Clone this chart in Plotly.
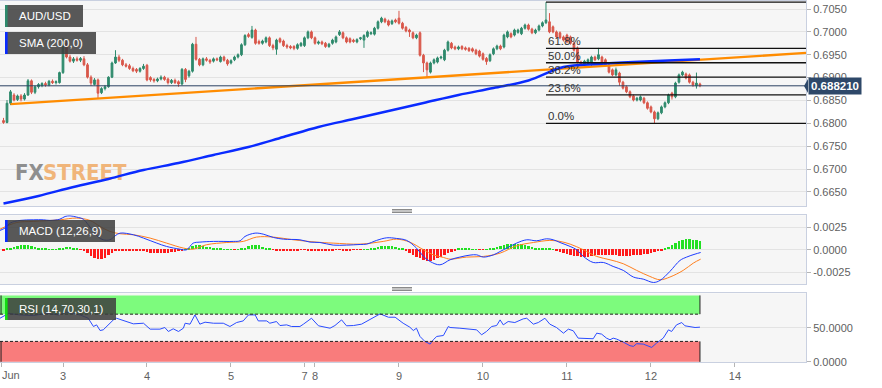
import plotly.graph_objects as go

# ---------------- data (hourly AUD/USD candles, index 0 = Jun 2 07:00) ----------------
opens = [
0.6806,0.6802,0.6844,0.6862,0.6852,0.6860,0.6853,0.6862,0.6893,0.6868,
0.6880,0.6883,0.6887,0.6884,0.6892,0.6889,0.6889,0.6911,0.6975,0.6945,
0.6936,0.6941,0.6938,0.6941,0.6928,0.6901,0.6885,0.6895,0.6867,0.6876,
0.6880,0.6901,0.6932,0.6945,0.6938,0.6928,0.6926,0.6920,0.6918,0.6914,
0.6920,0.6927,0.6900,0.6896,0.6893,0.6897,0.6901,0.6897,0.6889,0.6894,
0.6891,0.6886,0.6918,0.6904,0.6914,0.6973,0.6940,0.6928,0.6941,0.6938,
0.6936,0.6941,0.6935,0.6945,0.6938,0.6932,0.6939,0.6945,0.6950,0.6972,
0.6994,0.6988,0.7004,0.6979,0.6975,0.6978,0.6987,0.6970,0.6962,0.6985,
0.6980,0.6970,0.6968,0.6968,0.6964,0.6970,0.6970,0.6987,0.7000,0.6987,
0.6975,0.6978,0.6975,0.6968,0.6975,0.6978,0.6994,0.6998,0.6987,0.6985,
0.6982,0.6978,0.6985,0.6982,0.6990,0.6996,0.6995,0.7008,0.7022,0.7028,
0.7024,0.7018,0.7026,0.7030,0.7019,0.7010,0.7004,0.6998,0.6987,0.6998,
0.6949,0.6932,0.6912,0.6932,0.6934,0.6943,0.6939,0.6960,0.6975,0.6967,
0.6963,0.6968,0.6965,0.6964,0.6963,0.6960,0.6958,0.6952,0.6942,0.6937,
0.6952,0.6963,0.6969,0.6967,0.6989,0.6996,0.6993,0.6999,0.6996,0.7008,
0.7015,0.7006,0.6998,0.7004,0.7013,0.7020,0.7022,0.7011,0.7000,0.6998,
0.6989,0.6993,0.6989,0.6975,0.6965,0.6934,0.6928,0.6930,0.6934,0.6945,
0.6941,0.6945,0.6939,0.6928,0.6917,0.6906,0.6910,0.6890,0.6880,0.6869,
0.6860,0.6851,0.6851,0.6855,0.6845,0.6836,0.6825,0.6810,0.6823,0.6836,
0.6845,0.6866,0.6858,0.6890,0.6906,0.6908,0.6906,0.6890,0.6882,0.6886]
highs = [
0.6812,0.6851,0.6873,0.6866,0.6863,0.6864,0.6866,0.6897,0.6896,0.6883,
0.6888,0.6890,0.6891,0.6895,0.6896,0.6894,0.6913,0.6987,0.6980,0.6950,
0.6945,0.6946,0.6945,0.6947,0.6932,0.6905,0.6899,0.6898,0.6879,0.6884,
0.6903,0.6935,0.6960,0.6950,0.6941,0.6932,0.6930,0.6924,0.6921,0.6923,
0.6930,0.6930,0.6903,0.6899,0.6900,0.6905,0.6904,0.6900,0.6897,0.6898,
0.6894,0.6921,0.6921,0.6917,0.6976,0.6989,0.6943,0.6944,0.6945,0.6941,
0.6944,0.6944,0.6948,0.6948,0.6941,0.6940,0.6948,0.6953,0.6975,0.6995,
0.6998,0.7013,0.7007,0.6983,0.6983,0.6990,0.6990,0.6974,0.6985,0.6988,
0.6983,0.6974,0.6971,0.6971,0.6975,0.6978,0.6990,0.7003,0.7003,0.6990,
0.6981,0.6981,0.6978,0.6976,0.6985,0.6992,0.7004,0.7001,0.6990,0.6988,
0.6985,0.6986,0.6989,0.6995,0.7003,0.7001,0.7011,0.7025,0.7033,0.7031,
0.7027,0.7027,0.7029,0.7046,0.7022,0.7013,0.7007,0.7001,0.6996,0.7001,
0.6952,0.6935,0.6935,0.6942,0.6946,0.6948,0.6963,0.6981,0.6978,0.6970,
0.6970,0.6971,0.6968,0.6967,0.6966,0.6963,0.6961,0.6955,0.6945,0.6953,
0.6966,0.6972,0.6972,0.6996,0.7003,0.6999,0.7007,0.7007,0.7011,0.7018,
0.7018,0.7009,0.7007,0.7016,0.7023,0.7065,0.7041,0.7014,0.7003,0.7001,
0.6992,0.6996,0.6992,0.6978,0.6968,0.6937,0.6939,0.6942,0.6948,0.6948,
0.6965,0.6948,0.6942,0.6931,0.6920,0.6922,0.6913,0.6893,0.6883,0.6872,
0.6863,0.6858,0.6861,0.6858,0.6848,0.6839,0.6828,0.6826,0.6839,0.6848,
0.6865,0.6869,0.6891,0.6909,0.6915,0.6911,0.6909,0.6893,0.6911,0.6889]
lows = [
0.6799,0.6800,0.6840,0.6848,0.6849,0.6848,0.6850,0.6860,0.6864,0.6864,
0.6876,0.6879,0.6880,0.6881,0.6886,0.6885,0.6887,0.6908,0.6942,0.6933,
0.6932,0.6935,0.6934,0.6925,0.6898,0.6882,0.6883,0.6855,0.6864,0.6872,
0.6878,0.6899,0.6930,0.6934,0.6925,0.6922,0.6917,0.6912,0.6910,0.6911,
0.6917,0.6892,0.6891,0.6889,0.6890,0.6894,0.6893,0.6885,0.6886,0.6886,
0.6880,0.6883,0.6890,0.6900,0.6911,0.6937,0.6925,0.6925,0.6935,0.6930,
0.6933,0.6936,0.6933,0.6935,0.6926,0.6929,0.6936,0.6942,0.6947,0.6969,
0.6987,0.6985,0.6972,0.6972,0.6972,0.6975,0.6967,0.6960,0.6950,0.6975,
0.6967,0.6963,0.6962,0.6960,0.6961,0.6967,0.6967,0.6984,0.6984,0.6972,
0.6972,0.6971,0.6965,0.6965,0.6972,0.6975,0.6991,0.6984,0.6975,0.6975,
0.6976,0.6975,0.6982,0.6965,0.6987,0.6993,0.6992,0.7005,0.7019,0.7019,
0.7012,0.7015,0.7019,0.7016,0.7005,0.6999,0.6989,0.6984,0.6984,0.6946,
0.6912,0.6901,0.6909,0.6929,0.6931,0.6940,0.6936,0.6957,0.6962,0.6960,
0.6960,0.6960,0.6959,0.6956,0.6955,0.6949,0.6944,0.6937,0.6928,0.6934,
0.6949,0.6960,0.6960,0.6964,0.6986,0.6986,0.6990,0.6996,0.6993,0.7005,
0.7003,0.6995,0.6995,0.7001,0.7010,0.7017,0.6997,0.6997,0.6986,0.6984,
0.6979,0.6975,0.6972,0.6957,0.6931,0.6925,0.6925,0.6927,0.6926,0.6936,
0.6938,0.6931,0.6925,0.6909,0.6903,0.6903,0.6882,0.6874,0.6866,0.6855,
0.6848,0.6848,0.6848,0.6842,0.6830,0.6822,0.6800,0.6807,0.6820,0.6833,
0.6842,0.6852,0.6855,0.6887,0.6903,0.6896,0.6887,0.6880,0.6876,0.6879]
closes = [
0.6802,0.6844,0.6869,0.6851,0.6860,0.6853,0.6862,0.6893,0.6868,0.6880,
0.6885,0.6887,0.6884,0.6892,0.6889,0.6891,0.6911,0.6975,0.6945,0.6936,
0.6941,0.6938,0.6942,0.6928,0.6901,0.6888,0.6895,0.6866,0.6876,0.6880,
0.6901,0.6932,0.6945,0.6938,0.6928,0.6925,0.6920,0.6915,0.6914,0.6920,
0.6925,0.6895,0.6895,0.6893,0.6897,0.6901,0.6896,0.6889,0.6894,0.6889,
0.6886,0.6918,0.6896,0.6914,0.6973,0.6940,0.6928,0.6941,0.6938,0.6934,
0.6941,0.6939,0.6945,0.6938,0.6930,0.6937,0.6945,0.6950,0.6972,0.6992,
0.6990,0.7004,0.6975,0.6975,0.6980,0.6987,0.6970,0.6965,0.6982,0.6978,
0.6970,0.6967,0.6965,0.6964,0.6972,0.6975,0.6987,0.7000,0.6987,0.6975,
0.6978,0.6974,0.6968,0.6973,0.6982,0.6989,0.7000,0.6987,0.6978,0.6978,
0.6979,0.6983,0.6987,0.6992,0.7000,0.6998,0.7008,0.7022,0.7030,0.7022,
0.7015,0.7024,0.7022,0.7019,0.7008,0.7002,0.7000,0.6987,0.6993,0.6949,
0.6932,0.6917,0.6932,0.6939,0.6943,0.6945,0.6960,0.6978,0.6965,0.6963,
0.6967,0.6963,0.6962,0.6959,0.6958,0.6952,0.6947,0.6940,0.6935,0.6950,
0.6963,0.6969,0.6963,0.6993,0.7000,0.6989,0.7004,0.7004,0.7008,0.7015,
0.7006,0.6998,0.7004,0.7013,0.7020,0.7026,0.7000,0.7000,0.6989,0.6987,
0.6982,0.6978,0.6975,0.6960,0.6934,0.6928,0.6936,0.6939,0.6945,0.6939,
0.6950,0.6934,0.6928,0.6912,0.6906,0.6917,0.6890,0.6877,0.6869,0.6858,
0.6851,0.6855,0.6858,0.6845,0.6833,0.6825,0.6810,0.6823,0.6836,0.6845,
0.6862,0.6858,0.6888,0.6906,0.6912,0.6899,0.6890,0.6884,0.6888,0.68821]
candle_idx = list(range(len(closes)))

# SMA(200)
sma_x = [0, 10, 20, 30, 40, 50, 60, 70, 80, 90, 100, 110, 120, 130, 140, 150, 160, 170, 180, 190, 199]
sma_v = [0.66249, 0.66413, 0.66609, 0.66784, 0.66981, 0.67134, 0.67309, 0.67484, 0.67702, 0.67921,
         0.68096, 0.68271, 0.68446, 0.68621, 0.68773, 0.68937, 0.69232, 0.69298, 0.69342, 0.69374, 0.69401]

# orange trend line
trend_x = [2, 229.3]
trend_v = [0.6842, 0.6954]

# Fibonacci retracement (from 0.7065 high to 0.6800 low)
fib_start = 155
fib_levels = [0.7065, 0.69638, 0.69325, 0.69012, 0.68625, 0.6800]
fib_labels = ["", "61.8%", "50.0%", "38.2%", "23.6%", "0.0%"]

last_price = 0.68821
last_label = "0.688210"

# MACD (12,26,9)
macd_x = [-1, 0.4, 1.9, 4.7, 8.5, 11.4, 13.3, 16.1, 17.6, 19.0, 20.9, 22.8, 24.2, 25.7, 27.1, 28.5, 30.4, 31.9,
          33.3, 37.1, 40.0, 43.8, 46.6, 50.4, 52.3, 54.2, 56.1, 60.0, 65.7, 67.6, 69.0, 71.9, 74.2, 77.1, 80.0,
          84.7, 87.6, 90.4, 94.2, 98.0, 101.9, 103.8, 106.6, 109.5, 112.3, 115.2, 118.0, 120.0, 121.9, 124.7,
          127.6, 130.4, 133.3, 135.2, 137.1, 140.0, 141.9, 143.8, 146.6, 149.5, 152.3, 155.2, 157.1, 159.0,
          161.9, 163.8, 165.7, 168.5, 171.4, 174.2, 177.1, 180.0, 182.8, 185.7, 187.6, 190.4, 193.3, 195.2,
          197.6, 199.2]
macd_v = [0.00215, 0.00241, 0.00296, 0.00326, 0.00333, 0.00333, 0.00326, 0.00340, 0.00370, 0.00377, 0.00363,
          0.00340, 0.00278, 0.00204, 0.00141, 0.00111, 0.00111, 0.00155, 0.00185, 0.00167, 0.00130, 0.00074,
          0.00037, 0.00007, 0.0, 0.00074, 0.00085, 0.00093, 0.00093, 0.00100, 0.00148, 0.00185, 0.00174,
          0.00137, 0.00118, 0.00111, 0.00085, 0.00081, 0.00052, 0.00052, 0.00059, 0.00063, 0.00104, 0.00133,
          0.00126, 0.00104, 0.00019, -0.00074, -0.00130, -0.00167, -0.00111, -0.00081, -0.00059, -0.00056,
          -0.00081, -0.00056, -0.00019, 0.00019, 0.00074, 0.00111, 0.00100, 0.00122, 0.00111, 0.00081,
          0.00037, 0.0, -0.00074, -0.00141, -0.00141, -0.00185, -0.00229, -0.00303, -0.00326, -0.00363,
          -0.00340, -0.00241, -0.00118, -0.00081, -0.00048, -0.00030]
sig_x = [-1, 3.8, 8.5, 16.1, 20.9, 24.7, 27.6, 30.4, 33.3, 37.1, 41.9, 46.6, 51.4, 54.2, 58.0, 63.8, 68.5,
         72.3, 77.1, 82.8, 89.5, 94.2, 101.9, 108.5, 112.3, 116.1, 120.0, 122.8, 125.7, 127.6, 132.3, 137.1,
         141.9, 146.6, 151.4, 156.1, 159.0, 161.9, 165.7, 169.5, 173.3, 177.1, 180.9, 184.7, 187.6, 190.4,
         194.2, 197.1, 199.2]
sig_v = [0.00229, 0.00303, 0.00315, 0.00333, 0.00352, 0.00326, 0.00259, 0.00204, 0.00178, 0.00167, 0.00130,
         0.00074, 0.00019, 0.00007, 0.00056, 0.00081, 0.00093, 0.00141, 0.00141, 0.00111, 0.00085, 0.00074,
         0.00063, 0.00093, 0.00118, 0.00085, 0.0, -0.00056, -0.00085, -0.00104, -0.00081, -0.00074, -0.00037,
         0.00044, 0.00081, 0.00104, 0.00093, 0.00063, 0.0, -0.00074, -0.00111, -0.00155, -0.00229, -0.00296,
         -0.00333, -0.00303, -0.00229, -0.00148, -0.00104]
hist_v = [
-0.0001,0.0001,0.0002,0.0003,0.0004,0.0005,0.00055,0.0005,0.0004,0.0003,
0.0002,0.00015,0.0001,0.00005,0.00003,0.00003,0.0001,0.0002,0.0003,0.0003,
0.0002,0.0001,-0.00005,-0.0002,-0.0004,-0.0007,-0.0009,-0.0011,-0.0011,-0.0009,
-0.0006,-0.0004,-0.0002,-0.0001,-0.0001,-0.0001,-0.0001,-0.0001,-0.0001,-0.0001,
-0.0002,-0.0003,-0.0004,-0.0004,-0.0004,-0.0004,-0.0004,-0.0004,-0.0003,-0.0003,
-0.0002,-0.0001,0.00003,0.0002,0.0004,0.00045,0.00045,0.0004,0.0003,0.00025,
0.0002,0.00015,0.0001,0.00005,0.00003,0.00003,-0.00003,0.00003,0.0001,0.0002,
0.0004,0.0005,0.00055,0.0005,0.0003,0.0002,0.0001,-0.00005,-0.00015,-0.0002,
-0.0002,-0.00015,-0.0002,-0.00015,-0.0001,-0.00005,-0.00005,-0.0001,-0.00015,-0.0002,
-0.0002,-0.0002,-0.00015,-0.0001,-0.0001,-0.00005,-0.00005,-0.0001,-0.0001,-0.0001,
-0.00005,-0.00005,-0.00003,0.00003,0.00005,0.0001,0.0002,0.0003,0.00035,0.0004,
0.0004,0.00035,0.0003,0.0002,0.0001,-0.0002,-0.0004,-0.0006,-0.0008,-0.0010,
-0.0012,-0.0013,-0.0013,-0.0012,-0.0010,-0.0008,-0.0006,-0.0004,-0.0003,-0.0001,
0.0001,0.0001,0.0001,0.0001,0.00005,0.00003,-0.00003,-0.00003,0.00003,0.0001,
0.0002,0.0003,0.0004,0.0005,0.0006,0.0006,0.00065,0.0006,0.0006,0.0005,
0.0004,0.0003,0.0002,0.0002,0.0002,0.0002,0.0001,0.00003,-0.0002,-0.0003,
-0.0004,-0.0005,-0.0006,-0.0007,-0.0007,-0.0008,-0.0008,-0.0008,-0.0007,-0.0006,
-0.0006,-0.0006,-0.0006,-0.0006,-0.0006,-0.0006,-0.0007,-0.0007,-0.0007,-0.0007,
-0.0006,-0.0006,-0.0006,-0.0005,-0.0005,-0.0004,-0.0003,-0.0002,-0.0001,0.0001,
0.0003,0.0005,0.0007,0.0009,0.0011,0.0012,0.0012,0.0011,0.0010,0.0009]

# RSI (14,70,30,1)
rsi_x = [-1, 1.4, 4.7, 8.5, 12.3, 15.7, 18.0, 21.9, 24.2, 25.7, 26.6, 27.6, 28.5, 31.4, 32.3, 35.2, 37.1, 40.0,
         41.9, 44.7, 46.1, 47.1, 48.5, 50.0, 51.4, 51.9, 53.3, 54.7, 56.1, 57.6, 60.0, 62.8, 64.7, 66.6, 68.5,
         70.0, 71.9, 72.8, 75.2, 76.1, 78.0, 79.0, 80.9, 82.3, 84.7, 85.7, 88.0, 90.0, 92.3, 93.3, 94.7, 96.6,
         98.0, 100.0, 102.3, 104.7, 107.6, 110.0, 111.9, 114.2, 116.1, 117.1, 118.0, 119.0, 120.4, 121.9,
         122.8, 123.8, 125.7, 127.1, 127.6, 130.4, 133.3, 135.2, 136.6, 138.0, 139.5, 140.9, 141.9, 142.8,
         144.2, 146.1, 148.5, 149.5, 151.4, 152.8, 154.7, 156.1, 158.0, 160.0, 161.4, 162.8, 164.2, 165.7,
         166.6, 167.6, 168.5, 169.5, 170.9, 172.3, 173.3, 174.2, 175.2, 177.1, 179.0, 180.0, 180.9, 182.8,
         183.8, 185.2, 186.6, 188.5, 190.0, 190.9, 192.3, 193.8, 194.7, 196.1, 197.6, 199.0]
rsi_v = [64.0, 71.0, 68.9, 67.9, 71.3, 68.9, 73.0, 68.9, 64.0, 51.9, 54.3, 46.0, 47.0, 61.6, 64.0, 59.2, 55.8,
         56.7, 48.0, 48.0, 50.4, 44.6, 48.5, 44.6, 49.4, 56.7, 55.3, 68.9, 55.3, 58.2, 56.7, 56.7, 51.9, 57.7,
         60.1, 68.9, 68.9, 60.1, 60.1, 56.7, 59.2, 53.3, 54.3, 51.9, 51.9, 55.3, 64.0, 52.9, 50.9, 49.4, 53.3,
         61.6, 52.9, 53.3, 55.3, 61.6, 70.4, 65.5, 65.5, 56.7, 50.9, 46.0, 49.4, 37.3, 30.0, 26.1, 32.4, 37.3,
         38.7, 51.9, 50.4, 49.4, 48.0, 47.0, 39.7, 44.6, 51.9, 53.3, 61.6, 54.3, 59.2, 57.7, 63.1, 64.0, 55.3,
         57.7, 64.0, 55.3, 50.4, 42.1, 48.0, 45.6, 34.8, 34.8, 33.9, 34.8, 33.9, 42.1, 40.7, 34.8, 32.4, 34.8,
         33.4, 29.0, 23.7, 22.7, 26.6, 26.1, 24.1, 21.2, 27.5, 34.8, 47.0, 44.6, 54.3, 57.7, 52.9, 51.9, 50.4,
         50.9]
rsi_upper, rsi_lower, rsi_band_top = 70, 30, 97.5

# x-axis ticks (hour index of each day boundary)
tick_vals = [-0.7, 17, 41, 65, 86, 89, 113, 137, 161, 185, 209]
tick_text = ["", "3", "4", "5", "7", "8", "9", "10", "11", "12", "14"]

# ---------------- geometry helpers (pixel -> paper) ----------------
PW, TOP, BOT = 806.0, 1.0, 362.0
def PX(x):
    return x / PW
def PY(y):
    return (BOT - y) / (BOT - TOP)
XR = [-1, 229.3]
def IX(px):   # pixel -> index units
    return px / PW * (XR[1] - XR[0]) + XR[0]

FONT = "Liberation Sans, Arial, sans-serif"
NARROW = "Liberation Sans Narrow, Arial Narrow, DejaVu Sans Condensed, sans-serif"
GRID = "#e3e3e3"
BORDER = "#c9d0e0"
LBL = "#5f5f5f"

fig = go.Figure()

# watermark (behind lines)
wm_y = 0.7050 - (175 - 9) / 4575
fig.add_trace(go.Scatter(x=[IX(15)], y=[wm_y], mode="text",
                         text=["<b>FX</b>"], textposition="middle right",
                         textfont=dict(family=NARROW, size=22, color="#8f8f8f"),
                         xaxis="x", yaxis="y", hoverinfo="skip", showlegend=False))
fig.add_trace(go.Scatter(x=[IX(43)], y=[wm_y], mode="text",
                         text=["<b>STREET</b>"], textposition="middle right",
                         textfont=dict(family=NARROW, size=22, color="#f0b57a"),
                         xaxis="x", yaxis="y", hoverinfo="skip", showlegend=False))

fig.add_trace(go.Candlestick(
    x=candle_idx, open=opens, high=highs, low=lows, close=closes,
    increasing=dict(line=dict(color="#2e8a6c", width=1), fillcolor="#2e8a6c"),
    decreasing=dict(line=dict(color="#d9574a", width=1), fillcolor="#d9574a"),
    whiskerwidth=0, xaxis="x", yaxis="y", hoverinfo="skip", showlegend=False))

fig.add_trace(go.Scatter(x=trend_x, y=trend_v, mode="lines",
                         line=dict(color="#ff8c00", width=2.4),
                         xaxis="x", yaxis="y", hoverinfo="skip", showlegend=False))
fig.add_trace(go.Scatter(x=sma_x, y=sma_v, mode="lines", line_shape="spline",
                         line=dict(color="#0a2bff", width=2.4),
                         xaxis="x", yaxis="y", hoverinfo="skip", showlegend=False))

# MACD panel
fig.add_trace(go.Bar(x=candle_idx, y=hist_v, width=0.68,
                     marker=dict(color=["#22e022" if v >= 0 else "#ff1a1a" for v in hist_v], line=dict(width=0)),
                     xaxis="x2", yaxis="y2", hoverinfo="skip", showlegend=False))
fig.add_trace(go.Scatter(x=sig_x, y=sig_v, mode="lines", line_shape="spline",
                         line=dict(color="#ff7f1e", width=1),
                         xaxis="x2", yaxis="y2", hoverinfo="skip", showlegend=False))
fig.add_trace(go.Scatter(x=macd_x, y=macd_v, mode="lines", line_shape="spline",
                         line=dict(color="#1d3cff", width=1),
                         xaxis="x2", yaxis="y2", hoverinfo="skip", showlegend=False))

# RSI panel
fig.add_trace(go.Scatter(x=rsi_x, y=rsi_v, mode="lines",
                         line=dict(color="#2a4cff", width=1),
                         xaxis="x3", yaxis="y3", hoverinfo="skip", showlegend=False))

shapes = []
# RSI bands
shapes.append(dict(type="rect", xref="x3", yref="y3", x0=XR[0], x1=199, y0=rsi_upper, y1=rsi_band_top,
                   fillcolor="#7dfb7d", line=dict(width=0), layer="below"))
shapes.append(dict(type="rect", xref="x3", yref="y3", x0=XR[0], x1=199, y0=0, y1=rsi_lower,
                   fillcolor="#f97c7c", line=dict(width=0), layer="below"))
for lvl in (rsi_upper, rsi_lower):
    shapes.append(dict(type="line", xref="x3", yref="y3", x0=XR[0], x1=199, y0=lvl, y1=lvl,
                       line=dict(color="#222", width=1, dash="3px,2px")))
shapes.append(dict(type="line", xref="x3", yref="y3", x0=199, x1=199, y0=rsi_upper, y1=rsi_band_top,
                   line=dict(color="#222", width=1)))
shapes.append(dict(type="line", xref="x3", yref="y3", x0=199, x1=199, y0=0, y1=rsi_lower,
                   line=dict(color="#222", width=1)))
shapes.append(dict(type="line", xref="x3", yref="y3", x0=XR[0] + 0.3, x1=XR[0] + 0.3, y0=rsi_upper, y1=rsi_band_top,
                   line=dict(color="#222", width=1)))
shapes.append(dict(type="line", xref="x3", yref="y3", x0=XR[0] + 0.3, x1=XR[0] + 0.3, y0=0, y1=rsi_lower,
                   line=dict(color="#222", width=1)))

# current price line
shapes.append(dict(type="line", xref="x", yref="y", x0=XR[0], x1=XR[1], y0=last_price, y1=last_price,
                   line=dict(color="#2c4263", width=1)))
# fibonacci lines
for lv in fib_levels:
    shapes.append(dict(type="line", xref="x", yref="y", x0=fib_start, x1=XR[1], y0=lv, y1=lv,
                       line=dict(color="#111", width=1.3)))

# label boxes
def label_box(x0, y0, x1, y1, stripe):
    shapes.append(dict(type="rect", xref="paper", yref="paper", x0=PX(x0), x1=PX(x1), y0=PY(y1), y1=PY(y0),
                       fillcolor="rgba(62,62,62,0.86)", line=dict(width=0)))
    shapes.append(dict(type="rect", xref="paper", yref="paper", x0=PX(x0), x1=PX(x0 + 2.6), y0=PY(y1), y1=PY(y0),
                       fillcolor=stripe, line=dict(width=0)))

label_box(5, 5, 83, 27, "#2e8a6c")
label_box(5, 32, 96, 54, "#0a2bff")
label_box(5, 220, 115, 242, "#0a2bff")
label_box(5, 298, 116, 320, "#11dd11")

# drag handles
for yy in (209.5, 211, 212.5, 287.5, 289, 290.5):
    shapes.append(dict(type="line", xref="paper", yref="paper", x0=PX(392), x1=PX(412), y0=PY(yy), y1=PY(yy),
                       line=dict(color="#8a8a8a", width=1)))

# price tag pointer
shapes.append(dict(type="path", xref="paper", yref="paper",
                   path=f"M {PX(808)} {PY(79)} L {PX(804)} {PY(86)} L {PX(808)} {PY(93)} Z",
                   fillcolor="#2e4869", line=dict(width=0)))

annotations = []
def label_text(txt, y):
    annotations.append(dict(xref="paper", yref="paper", x=PX(17), y=PY(y), text=txt, showarrow=False,
                            xanchor="left", yanchor="middle", font=dict(family=FONT, size=11.5, color="white")))
label_text("AUD/USD", 16)
label_text("SMA (200,0)", 43)
label_text("MACD (12,26,9)", 231)
label_text("RSI (14,70,30,1)", 309)

for lv, lab in zip(fib_levels, fib_labels):
    if lab:
        annotations.append(dict(xref="x", yref="y", x=fib_start, y=lv, text=lab, showarrow=False,
                                xanchor="left", yanchor="bottom", xshift=0, yshift=-1,
                                font=dict(family=FONT, size=11.5, color="#333")))

annotations.append(dict(xref="paper", yref="y", x=PX(808), y=last_price, text=f"<b>{last_label}</b>",
                        showarrow=False, xanchor="left", yanchor="middle", bgcolor="#2e4869",
                        borderpad=2, font=dict(family=FONT, size=11.5, color="white")))
annotations.append(dict(xref="paper", yref="paper", x=PX(0), y=PY(375), text="Jun", showarrow=False,
                        xanchor="left", yanchor="middle", font=dict(family=FONT, size=11, color=LBL)))

common_x = dict(range=XR, showgrid=False, zeroline=False, showline=True, mirror=True,
                linecolor=BORDER, linewidth=1)
common_y = dict(side="right", showgrid=True, gridcolor=GRID, zeroline=False, showline=True, mirror=True,
                linecolor=BORDER, linewidth=1, ticks="outside", ticklen=4, tickcolor="#b5b5b5",
                tickfont=dict(family=FONT, size=11, color=LBL))

fig.update_layout(
    width=882, height=388,
    margin=dict(l=0, r=76, t=1, b=26),
    paper_bgcolor="white", plot_bgcolor="#f6f6f6",
    showlegend=False, bargap=0,
    xaxis=dict(**common_x, domain=[0, 1], anchor="y", showticklabels=False, rangeslider=dict(visible=False)),
    xaxis2=dict(**common_x, domain=[0, 1], anchor="y2", matches="x", showticklabels=False),
    xaxis3=dict(**common_x, domain=[0, 1], anchor="y3", matches="x", tickmode="array",
                tickvals=tick_vals, ticktext=tick_text, ticks="outside", ticklen=4, tickcolor="#b5b5b5",
                tickfont=dict(family=FONT, size=11, color=LBL)),
    yaxis=dict(**common_y, domain=[PY(206.3), 1], anchor="x", range=[0.66187, 0.70675],
               tickmode="array", tickvals=[0.665, 0.670, 0.675, 0.680, 0.685, 0.690, 0.695, 0.700, 0.705],
               ticktext=["0.6650", "0.6700", "0.6750", "0.6800", "0.6850", "0.6900", "0.6950", "0.7000", "0.7050"]),
    yaxis2=dict(**common_y, domain=[PY(284), PY(215.3)], anchor="x2", range=[-0.0038, 0.00383],
                tickmode="array", tickvals=[-0.0025, 0, 0.0025], ticktext=["-0.0025", "0.0000", "0.0025"]),
    yaxis3=dict(**common_y, domain=[0, PY(293.3)], anchor="x3", range=[-0.2, 100.6],
                tickmode="array", tickvals=[0, 50], ticktext=["0.0000", "50.0000"]),
    shapes=shapes, annotations=annotations,
)

fig.write_html("out.html", config={"displayModeBar": False},
               post_script="document.body.style.margin='0px';document.body.style.overflow='hidden';")
